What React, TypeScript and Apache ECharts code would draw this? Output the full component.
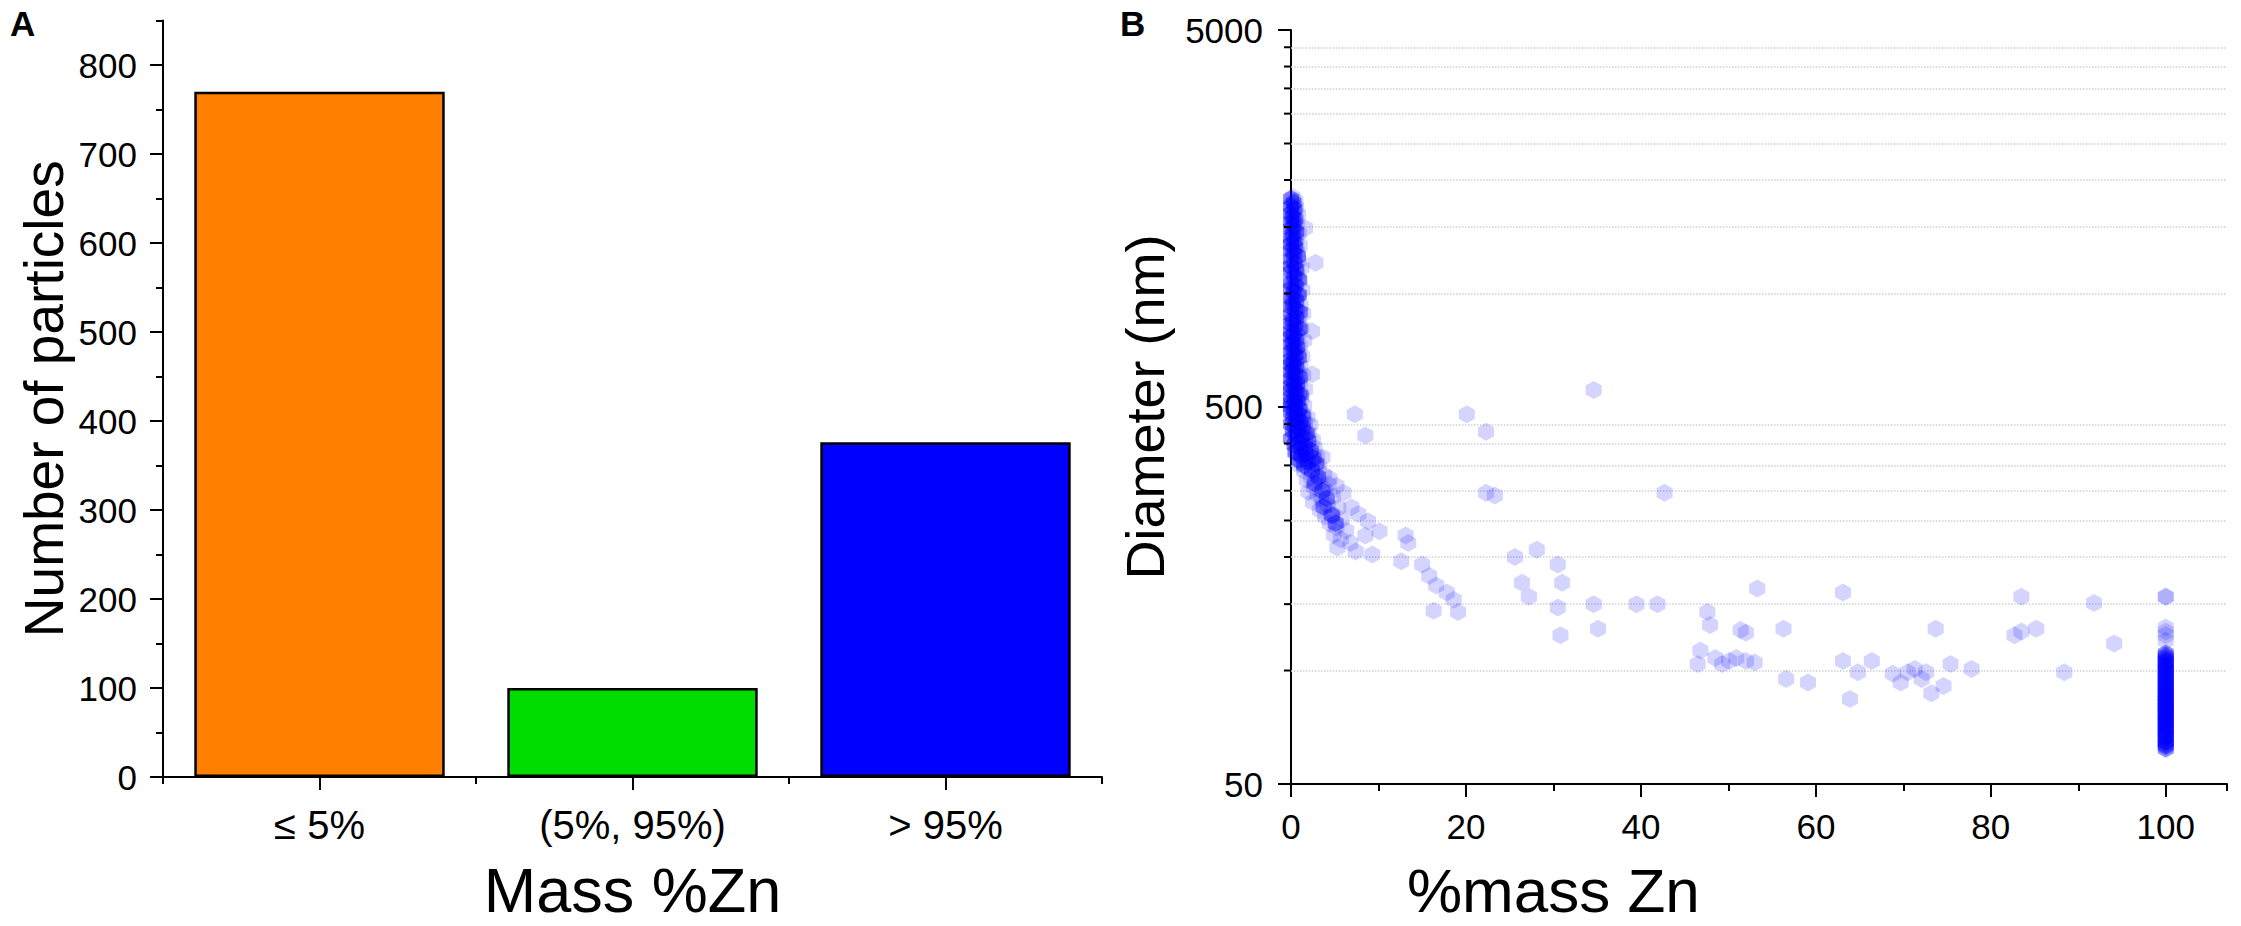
import React, { useEffect, useRef } from 'react';
import * as echarts from 'echarts';

// ---------- Panel A data ----------
const categories = ['≤ 5%', '(5%, 95%)', '> 95%'];
const particleCounts = [770, 100, 376];
const barColors = ['#FF8000', '#00DD00', '#0000FF'];

// ---------- Panel B data: [%mass Zn, diameter nm] ----------
const lowZnPoints: [number, number][] = [
  [0.2, 1800], [0.5, 1760], [0.1, 1720], [0.6, 1690], [0.3, 1650], [0.8, 1620], [0.1, 1590], [0.4, 1560],
  [0.7, 1530], [0.2, 1500], [0.5, 1470], [0.9, 1440], [0.1, 1420], [0.6, 1390], [0.3, 1360], [1.0, 1340],
  [0.2, 1310], [0.7, 1290], [0.4, 1270], [0.1, 1240], [0.9, 1220], [0.5, 1190], [1.2, 1170], [0.2, 1150],
  [0.7, 1130], [0.3, 1100], [1.0, 1080], [0.1, 1060], [0.6, 1040], [1.3, 1020], [0.3, 1000], [0.8, 985],
  [0.1, 965], [0.5, 950], [1.1, 930], [0.2, 915], [0.7, 900], [1.4, 885], [0.4, 870], [0.1, 855],
  [0.9, 840], [0.3, 825], [1.2, 812], [0.6, 800], [0.1, 787], [0.8, 775], [0.4, 762], [1.5, 750],
  [0.2, 738], [1.0, 726], [0.5, 715], [0.1, 704], [0.8, 693], [1.3, 682], [0.3, 672], [0.6, 662],
  [0.1, 652], [1.1, 642], [0.4, 633], [0.8, 624], [0.2, 615], [1.4, 606], [0.6, 597], [0.1, 589],
  [1.0, 581], [0.4, 573], [0.7, 565], [1.6, 557], [0.2, 550], [0.9, 543], [0.5, 536], [1.2, 529],
  [0.1, 522], [0.7, 516], [0.3, 510], [1.5, 504], [0.9, 498], [0.2, 492],
  [0.6, 486], [1.3, 480], [0.3, 474], [1.9, 469], [0.9, 464], [0.4, 458], [1.6, 453], [2.2, 448],
  [0.7, 443], [1.2, 438], [0.3, 433], [2.0, 428], [1.0, 423], [1.6, 418], [0.5, 414], [2.5, 409],
  [1.2, 404], [0.8, 400], [1.9, 395], [2.7, 390], [1.4, 386], [0.6, 382], [2.2, 378], [1.0, 373],
  [3.0, 369], [1.7, 365], [2.4, 360], [1.2, 356], [0.8, 352],
  [3.2, 347], [2.0, 343], [1.5, 338], [2.8, 334], [3.8, 330], [2.3, 325], [1.8, 320], [3.4, 316],
  [4.3, 312], [2.6, 307], [3.9, 302], [2.0, 298], [3.0, 293], [4.8, 289], [3.5, 284], [2.5, 280],
  [4.2, 275], [5.4, 270], [3.3, 266], [4.6, 261], [3.9, 256], [5.8, 251], [4.4, 246], [5.2, 240],
  [6.3, 235], [4.9, 229], [5.7, 223], [6.8, 218], [5.3, 212], [7.4, 207],
];

const lowZnPointsCore: [number, number][] = [
  [0.0, 1780], [0.3, 1740], [0.0, 1700], [0.4, 1670], [0.0, 1630], [0.2, 1600], [0.5, 1575], [0.0, 1545],
  [0.3, 1515], [0.0, 1485], [0.6, 1455], [0.2, 1430], [0.0, 1400], [0.4, 1375], [0.0, 1350], [0.5, 1325],
  [0.0, 1300], [0.3, 1280], [0.8, 1255], [0.0, 1230], [0.4, 1205], [0.0, 1180], [0.6, 1160], [0.0, 1140],
  [0.4, 1115], [0.9, 1090], [0.0, 1070], [0.5, 1050], [0.0, 1030], [0.3, 1010], [0.9, 992], [0.0, 975],
  [0.6, 958], [0.2, 940], [0.0, 922], [0.5, 907], [1.0, 892], [0.0, 878], [0.6, 862], [0.2, 848],
  [0.0, 832], [0.5, 818], [1.0, 806], [0.0, 793], [0.3, 780], [0.0, 768], [0.6, 756], [0.2, 744],
  [0.0, 732], [0.7, 720], [0.3, 709], [0.0, 698], [0.5, 688], [0.9, 677], [0.0, 667], [0.3, 657],
  [0.0, 647], [0.6, 638], [0.2, 628], [0.0, 619], [0.5, 610], [1.0, 601], [0.0, 593], [0.3, 585],
  [0.7, 577], [0.0, 569], [0.4, 561], [0.0, 553], [0.6, 546], [1.1, 539], [0.0, 532], [0.4, 525],
  [0.8, 519], [0.0, 513], [0.5, 507], [0.0, 501], [1.0, 495], [0.4, 489], [0.0, 483], [0.8, 477],
  [1.4, 471], [0.2, 466], [0.6, 461], [1.1, 456], [0.0, 451], [0.5, 446], [1.4, 441], [0.9, 436],
  [0.2, 431], [1.8, 426], [0.6, 421], [1.3, 416], [0.0, 412], [2.0, 407], [0.9, 402], [0.4, 397],
  [1.6, 392], [1.1, 388], [2.3, 383], [0.5, 379], [1.7, 375], [1.2, 371], [2.6, 366], [0.9, 362],
  [1.9, 358], [2.9, 354], [1.5, 350], [2.4, 340], [3.1, 326], [2.7, 314], [3.6, 300], [4.1, 286],
  [3.7, 272], [4.7, 258], [5.1, 246],
];

const midZnPoints: [number, number][] = [
  [1.6, 1489], [2.8, 1207], [2.4, 794], [2.4, 611], [7.3, 478], [8.5, 420], [20.1, 478], [22.3, 430],
  [34.6, 555], [22.3, 296], [23.3, 291], [42.7, 296],
  [3.6, 368], [4.4, 323], [5.2, 309], [6.0, 296], [6.9, 271], [7.7, 260], [8.8, 249], [10.1, 234],
  [8.5, 228], [9.3, 203], [13.1, 228], [13.4, 218], [12.6, 195], [15.0, 191], [15.8, 178], [16.6, 168],
  [17.8, 161], [18.6, 154], [16.3, 144], [19.1, 143], [25.6, 200], [28.1, 209], [30.5, 191], [31.0, 171],
  [26.4, 171], [27.2, 157], [30.5, 147], [30.8, 124], [34.6, 150], [35.1, 129], [39.5, 150], [41.9, 150],
  [47.6, 143], [47.9, 132], [46.8, 113], [46.5, 104], [48.5, 108], [49.3, 104], [50.1, 106], [50.9, 108],
  [52.0, 106], [53.0, 105], [51.4, 128], [52.0, 126], [53.3, 165], [56.3, 129], [56.6, 95], [59.1, 93],
  [63.1, 161], [63.1, 106], [64.8, 99], [63.9, 84], [66.4, 106], [68.8, 98], [69.7, 93], [70.5, 99],
  [71.3, 101], [72.1, 95], [72.6, 99], [73.2, 87], [74.6, 91], [73.7, 129], [75.4, 104], [77.8, 101],
  [82.7, 124], [83.5, 127], [85.2, 129], [83.5, 157], [88.4, 99], [91.8, 151], [94.1, 118],
];

const pureZnDense = [
  62, 63, 63.6, 64.5, 65, 66.2, 66.8, 67.5, 68.6, 69, 70.1, 70.7, 71.5, 72.4, 73, 73.9, 74.5, 75.6,
  76.2, 77, 77.8, 78.9, 79.5, 80.4, 81.3, 82, 83.1, 83.8, 84.9, 85.5, 86.7, 87.4, 88.6, 89.2, 90.5,
  91.3, 92.6, 93.4, 94.8, 95.5, 96.9, 98, 99.2, 100.5, 101.4, 102.8, 104, 105.3, 106.5, 108, 109.5, 111,
];
const pureZnOutliers = [120, 124, 127, 130, 157, 157];

const diameterMinorTicks = [100, 150, 200, 250, 300, 350, 400, 450, 1000, 1500, 2000, 2500, 3000, 3500, 4000, 4500];

const FONT = '"Liberation Sans", Arial, Helvetica, sans-serif';
const HEX = 'path://M0,-10L8.66,-5L8.66,5L0,10L-8.66,5L-8.66,-5Z';
const POINT_LIGHT = 'rgba(0,0,255,0.21)';
const POINT_DENSE = 'rgba(0,0,255,0.55)';
const AXIS_LINE = { show: true, lineStyle: { color: '#000', width: 2 } };

export default function App() {
  const ref = useRef<HTMLDivElement>(null);

  useEffect(() => {
    document.body.style.margin = '0';
    if (!ref.current) return;
    const chart = echarts.init(ref.current, undefined, { renderer: 'svg' });

    const scatterBase = {
      type: 'scatter',
      xAxisIndex: 3,
      yAxisIndex: 2,
      symbol: HEX,
      symbolSize: [16, 18],
      z: 3,
      silent: true,
    };

    const gridBase = { containLabel: false, outerBoundsMode: 'none' };

    const option: any = {
      animation: false,
      backgroundColor: '#fff',
      textStyle: { fontFamily: FONT, color: '#000' },
      title: [
        { text: 'A', left: 10, top: 6, padding: 0, textStyle: { fontFamily: FONT, fontSize: 35, fontWeight: 'bold', color: '#000' } },
        { text: 'B', left: 1120, top: 6, padding: 0, textStyle: { fontFamily: FONT, fontSize: 35, fontWeight: 'bold', color: '#000' } },
      ],
      grid: [
        { ...gridBase, left: 163, top: 20.5, width: 939, height: 756.5 },
        { ...gridBase, left: 163, top: 65, width: 939, height: 712 },
        { ...gridBase, left: 1291, top: 30, width: 936, height: 754 },
        { ...gridBase, left: 1291, top: 30, width: 874.8, height: 754 },
      ],
      xAxis: [
        {
          type: 'category', gridIndex: 0, position: 'bottom', data: categories,
          axisLine: AXIS_LINE,
          axisTick: { show: true, length: 7, lineStyle: { color: '#000', width: 2 } },
          axisLabel: { show: false },
          splitLine: { show: false },
        },
        {
          type: 'category', gridIndex: 0, position: 'bottom', data: categories,
          axisLine: { show: false },
          axisTick: { show: true, alignWithLabel: true, length: 13, lineStyle: { color: '#000', width: 2 } },
          axisLabel: { show: true, fontSize: 40, margin: 28, color: '#000', fontFamily: FONT },
          splitLine: { show: false },
          name: 'Mass %Zn', nameLocation: 'middle', nameGap: 88,
          nameTextStyle: { fontSize: 63, lineHeight: 50, color: '#000', fontFamily: FONT },
        },
        { type: 'value', gridIndex: 1, show: false, min: 0, max: 1 },
        {
          type: 'value', gridIndex: 2, min: 0, max: 107, interval: 10,
          axisLine: AXIS_LINE,
          axisTick: { show: true, length: 7, lineStyle: { color: '#000', width: 2 } },
          axisLabel: { show: false },
          splitLine: { show: false },
        },
        {
          type: 'value', gridIndex: 3, min: 0, max: 100, interval: 20,
          axisLine: { show: false },
          axisTick: { show: true, length: 13, lineStyle: { color: '#000', width: 2 } },
          axisLabel: { show: true, fontSize: 35, margin: 25, color: '#000', fontFamily: FONT },
          splitLine: { show: false },
          name: '%mass Zn', nameLocation: 'middle', nameGap: 81,
          nameTextStyle: { fontSize: 62, lineHeight: 50, color: '#000', fontFamily: FONT, padding: [0, 350, 0, 0] },
        },
      ],
      yAxis: [
        {
          type: 'value', gridIndex: 0, min: 0, max: 850, interval: 50,
          axisLine: AXIS_LINE,
          axisTick: { show: true, length: 7, lineStyle: { color: '#000', width: 2 } },
          axisLabel: { show: false },
          splitLine: { show: false },
          name: 'Number of particles', nameLocation: 'middle', nameGap: 92,
          nameTextStyle: { fontSize: 55, color: '#000', fontFamily: FONT },
        },
        {
          type: 'value', gridIndex: 1, min: 0, max: 800, interval: 100,
          axisLine: { show: false },
          axisTick: { show: true, length: 13, lineStyle: { color: '#000', width: 2 } },
          axisLabel: { show: true, fontSize: 35, margin: 26, color: '#000', fontFamily: FONT },
          splitLine: { show: false },
        },
        {
          type: 'log', logBase: 10, gridIndex: 2, min: 50, max: 5000, interval: 1,
          axisLine: AXIS_LINE,
          axisTick: { show: true, length: 13, lineStyle: { color: '#000', width: 2 } },
          axisLabel: {
            show: true, fontSize: 35, margin: 28, color: '#000', fontFamily: FONT,
            formatter: (v: number) => String(Number(Number(v).toPrecision(1))),
          },
          splitLine: { show: false },
          name: 'Diameter (nm)', nameLocation: 'middle', nameGap: 119,
          nameTextStyle: { fontSize: 54, color: '#000', fontFamily: FONT },
        },
        { type: 'log', logBase: 10, gridIndex: 3, min: 50, max: 5000, show: false },
      ],
      series: [
        {
          type: 'bar', xAxisIndex: 0, yAxisIndex: 0, barCategoryGap: '20%',
          data: particleCounts.map((v, i) => ({ value: v, itemStyle: { color: barColors[i] } })),
          itemStyle: { borderColor: '#000', borderWidth: 2.5 },
          silent: true,
        },
        {
          type: 'custom', xAxisIndex: 3, yAxisIndex: 2, clip: false, silent: true, z: 4,
          data: diameterMinorTicks.map((v) => [0, v]),
          renderItem: (params: any, api: any) => {
            const p = api.coord([0, api.value(1)]);
            return {
              type: 'line',
              shape: { x1: p[0] - 7, y1: p[1], x2: p[0], y2: p[1] },
              style: { stroke: '#000', lineWidth: 2 },
            };
          },
          markLine: {
            silent: true, symbol: 'none', z: 1,
            label: { show: false },
            lineStyle: { type: 'dotted', color: '#cfcfcf', width: 1.5 },
            data: diameterMinorTicks.map((v) => ({ yAxis: v })),
          },
        },
        { ...scatterBase, itemStyle: { color: POINT_LIGHT }, data: lowZnPoints },
        { ...scatterBase, itemStyle: { color: POINT_DENSE }, data: lowZnPointsCore },
        { ...scatterBase, itemStyle: { color: POINT_LIGHT }, data: midZnPoints },
        { ...scatterBase, itemStyle: { color: POINT_DENSE }, data: pureZnDense.map((d) => [100, d]) },
        { ...scatterBase, itemStyle: { color: POINT_LIGHT }, data: pureZnOutliers.map((d) => [100, d]) },
      ],
    };

    chart.setOption(option);
    return () => chart.dispose();
  }, []);

  return (
    <div
      ref={ref}
      style={{ position: 'absolute', left: 0, top: 0, width: 2241, height: 926 }}
    />
  );
}
